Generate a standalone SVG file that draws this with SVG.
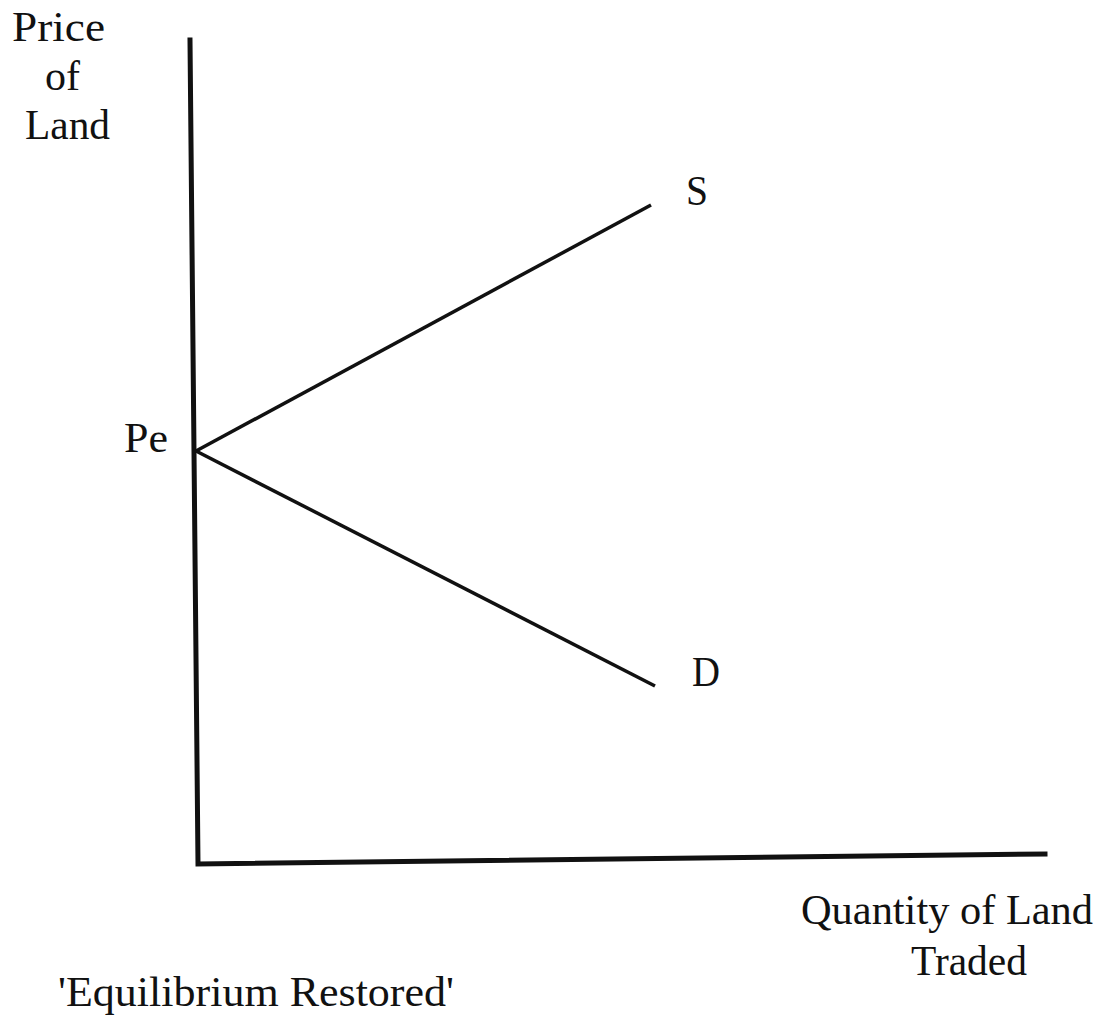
<svg xmlns="http://www.w3.org/2000/svg" width="1105" height="1020" viewBox="0 0 1105 1020">
<style>
text{font-family:"Liberation Serif","Times New Roman",serif;font-size:43px;fill:#111}
.ax{stroke:#111;stroke-width:5;fill:none;stroke-linecap:square}
.cv{stroke:#111;stroke-width:3.5;fill:none}
</style>
<rect width="1105" height="1020" fill="#fff"/>
<g id="connectors">
<path class="ax" d="M190 40 L198 864 L1045 854"/>
<line class="cv" x1="196" y1="451" x2="651" y2="205"/>
<line class="cv" x1="196" y1="451" x2="655" y2="686"/>
</g>
<g id="y-axis-label">
<text x="12" y="41" textLength="93" lengthAdjust="spacingAndGlyphs">Price</text>
<text x="45" y="90" textLength="35" lengthAdjust="spacingAndGlyphs">of</text>
<text x="25" y="139" textLength="85" lengthAdjust="spacingAndGlyphs">Land</text>
</g>
<g id="pe-label"><text x="124" y="452" textLength="44" lengthAdjust="spacingAndGlyphs">Pe</text></g>
<g id="s-label"><text x="686" y="205" textLength="22" lengthAdjust="spacingAndGlyphs">S</text></g>
<g id="d-label"><text x="692" y="686" textLength="28" lengthAdjust="spacingAndGlyphs">D</text></g>
<g id="x-axis-label">
<text x="801" y="924" textLength="292" lengthAdjust="spacingAndGlyphs">Quantity of Land</text>
<text x="911" y="975" textLength="116" lengthAdjust="spacingAndGlyphs">Traded</text>
</g>
<g id="caption"><text x="58" y="1006" textLength="396" lengthAdjust="spacingAndGlyphs">'Equilibrium Restored'</text></g>
</svg>
